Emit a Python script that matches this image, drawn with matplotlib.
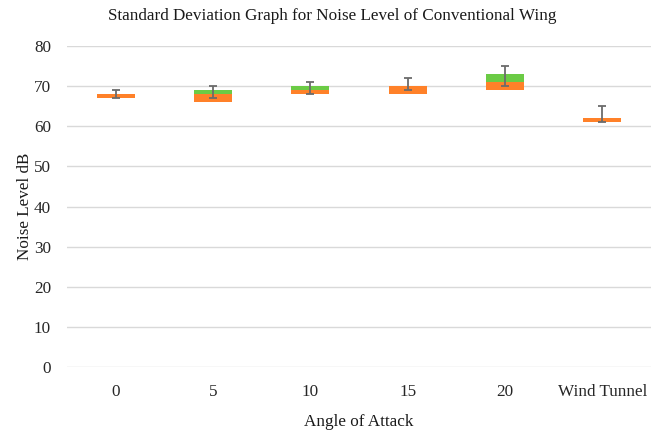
import numpy as np
import matplotlib
matplotlib.use("Agg")
import matplotlib.pyplot as plt

# box plot built from stacked bars (Excel style)
categories = ["0", "5", "10", "15", "20", "Wind Tunnel"]
q1 = [67, 66, 68, 68, 69, 61]
lower_box = [1, 2, 1, 2, 2, 1]     # q1 -> median (orange)
upper_box = [0, 1, 1, 0, 2, 0]     # median -> q3 (green)
whisk_low = [67, 67, 68, 69, 70, 61]
whisk_high = [69, 70, 71, 72, 75, 65]

plt.rcParams['font.family'] = ['Liberation Serif', 'DejaVu Serif']

fig = plt.figure(figsize=(6.51, 4.34), dpi=100)
ax = fig.add_axes([67/651, 67/434, 584/651, 321/434])

x = np.arange(len(categories))
w = 0.39
ax.bar(x, lower_box, w, bottom=q1, color="#ff8129", zorder=2)
ax.bar(x, upper_box, w, bottom=np.array(q1) + np.array(lower_box),
       color="#6bcb45", zorder=2)

lo = np.array(whisk_low)
hi = np.array(whisk_high)
ax.errorbar(x, lo, yerr=[np.zeros(len(x)), hi - lo], fmt="none",
            ecolor="#6b6b6b", elinewidth=1.3, capsize=2.8, capthick=1.3, zorder=3)

ax.set_xlim(-0.5, len(categories) - 0.5)
ax.set_ylim(0, 80)
ax.set_yticks(range(0, 81, 10))
ax.set_xticks(x)
ax.set_xticklabels(categories)
ax.grid(axis="y", color="#d9d9d9", linewidth=1)
ax.set_axisbelow(True)
for s in ax.spines.values():
    s.set_visible(False)
ax.tick_params(length=0, labelsize=12.3, colors="#262626")
ax.tick_params(axis="y", pad=11.5)
ax.tick_params(axis="x", pad=12)

ax.set_xlabel("Angle of Attack", fontsize=12.3, labelpad=10, color="#1a1a1a")
ax.set_ylabel("Noise Level dB", fontsize=12.3, labelpad=1, color="#1a1a1a")
fig.text(332/651, 1 - 16/434, "Standard Deviation Graph for Noise Level of Conventional Wing",
         ha="center", va="center", fontsize=12.3, color="#1a1a1a")

fig.savefig("out.png", dpi=100)
